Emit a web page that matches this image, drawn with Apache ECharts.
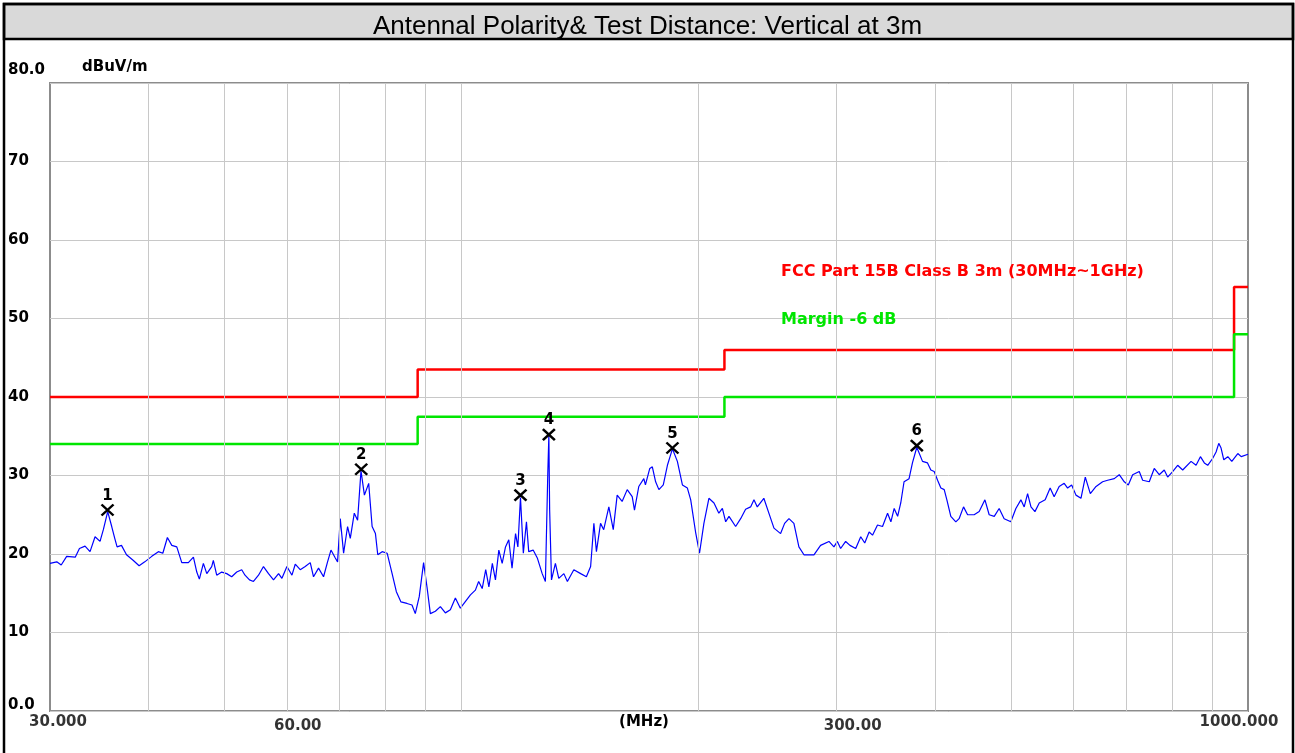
<!DOCTYPE html>
<html>
<head>
<meta charset="utf-8">
<title>Antennal Polarity & Test Distance</title>
<script src="https://cdn.jsdelivr.net/npm/echarts@6.0.0/dist/echarts.min.js"></script>
<style>
  html, body { margin: 0; padding: 0; background: #fff; }
  #myChart { width: 1295px; height: 753px; }
</style>
</head>
<body>
<div id="myChart"></div>
<script>
// measured trace, [MHz, dBuV/m]
const traceLow = [
  [30, 18.8], [30.6, 19.0], [31.0, 18.6], [31.5, 19.7], [32.3, 19.6], [32.7, 20.7], [33.24, 21.0], [33.73, 20.3],
  [34.23, 22.2], [34.73, 21.6], [35.07, 23.1], [35.52, 25.4], [35.94, 23.5], [36.26, 22.0], [36.51, 20.9], [36.98, 21.1],
  [37.53, 19.9], [38.26, 19.2], [38.94, 18.5], [39.59, 19.0], [40.41, 19.7], [41.20, 20.3], [41.74, 20.1], [42.30, 22.1],
  [42.85, 21.1], [43.48, 20.9], [44.12, 18.9], [44.98, 18.9], [45.65, 19.6], [46.10, 17.7], [46.45, 16.8], [47.00, 18.8],
  [47.47, 17.5], [48.16, 18.4], [48.39, 19.2], [48.87, 17.3], [49.59, 17.7], [50.32, 17.5], [51.06, 17.1], [51.82, 17.7],
  [52.58, 18.0], [53.09, 17.3], [53.79, 16.7], [54.42, 16.5], [55.23, 17.3], [56.04, 18.4], [56.87, 17.5], [57.71, 16.7],
  [58.57, 17.5], [59.15, 16.9], [60.02, 18.4], [60.91, 17.3], [61.5, 18.7], [62.40, 18.0], [63.32, 18.4], [64.26, 18.9],
  [64.88, 17.1], [65.84, 18.2], [66.81, 17.1], [67.6, 19.0], [68.28, 20.5], [69.15, 19.5], [69.61, 19.0], [70.16, 24.5],
  [70.85, 20.1], [71.68, 23.5], [72.25, 22.0], [73.10, 25.2], [73.81, 24.3], [74.55, 30.6], [75.30, 27.5], [76.25, 29.0],
  [77.02, 23.5], [77.77, 22.6], [78.30, 19.9], [79.31, 20.3], [80.48, 20.1], [81.66, 17.5], [82.68, 15.2], [83.81, 13.9],
  [85.29, 13.7], [86.55, 13.5], [87.39, 12.4], [88.42, 14.6], [89.54, 18.9], [90.44, 15.8], [91.33, 12.4], [92.68, 12.7],
  [94.05, 13.3], [95.44, 12.5], [96.84, 12.9]
]
const traceMid = [
  [98.27, 14.4], [99.72, 13.1], [102.7, 14.8], [104.2, 15.4], [105.2, 16.5], [106.3, 15.6], [107.4, 18.0], [108.4, 15.8],
  [109.5, 18.8], [110.5, 16.7], [111.6, 20.5], [112.7, 18.8], [113.8, 20.9], [114.9, 21.8], [116.0, 18.2], [117.2, 22.6],
  [118.0, 20.9], [118.9, 27.2], [119.9, 20.1], [121.0, 24.1], [121.8, 20.3], [123.4, 20.5], [124.9, 19.5], [126.7, 17.5],
  [127.9, 16.5], [128.8, 30.3], [129.2, 35.1], [129.5, 25.6], [130.2, 16.7], [131.7, 18.8], [133.0, 16.9], [135.0, 17.5],
  [136.4, 16.5], [139.0, 18.0], [141.8, 17.5], [144.2, 17.1], [146.0, 18.4], [147.4, 23.9], [148.5, 20.3], [150.3, 23.9],
  [151.7, 23.1], [154.0, 26.0], [156.0, 23.1], [157.8, 27.5], [160.1, 26.7], [162.5, 28.2], [164.9, 27.3], [166.0, 25.6],
  [168.1, 28.6], [170.6, 29.6], [171.4, 28.8], [173.6, 30.9], [174.9, 31.1], [176.6, 29.2], [178.3, 28.2], [180.6, 28.8],
  [182.8, 31.3], [185.5, 33.4], [188.2, 31.8], [191.0, 28.8], [193.8, 28.4], [195.7, 26.9], [198.5, 22.8], [200.8, 20.1],
  [203.4, 23.9], [206.4, 27.1], [209.5, 26.5], [212.5, 25.2], [214.7, 25.8], [216.8, 24.1], [218.9, 24.8], [223.2, 23.5],
  [226.5, 24.5], [229.8, 25.7], [233.2, 26.0], [235.5, 26.9], [237.8, 26.0], [242.4, 27.1], [246.0, 25.2], [249.7, 23.3],
  [254.6, 22.6], [257.6, 23.9], [260.9, 24.5], [264.7, 23.9], [268.6, 20.9], [272.6, 19.9], [280.7, 19.9], [286.2, 21.1],
  [293.3, 21.6], [297.6, 20.9]
]
const traceHigh = [
  [300.6, 21.6], [303.5, 20.7], [308.0, 21.6], [311.9, 21.1], [317.2, 20.7], [321.9, 22.2], [325.7, 21.4], [329.9, 22.8],
  [333.2, 22.4], [338.1, 23.7], [343.1, 23.5], [348.2, 25.2], [351.6, 24.1], [355.0, 25.8], [358.6, 24.8], [361.9, 26.5],
  [365.4, 29.2], [370.8, 29.6], [374.5, 31.6], [379.3, 33.6], [385.7, 31.8], [391.4, 31.6], [395.2, 30.7], [399.1, 30.5],
  [403.1, 29.4], [407.0, 28.4], [411.0, 28.2], [414.2, 26.9], [419.0, 24.8], [425.2, 24.1], [429.3, 24.5], [434.9, 26.0],
  [440.1, 25.0], [448.6, 25.0], [455.3, 25.4], [463.0, 26.9], [468.8, 25.0], [475.8, 24.8], [482.7, 25.8], [489.8, 24.5],
  [499.5, 24.1], [506.9, 25.8], [514.4, 26.9], [519.4, 26.0], [524.6, 27.7], [529.8, 26.0], [536.0, 25.4], [542.8, 26.5],
  [552.3, 26.9], [560.4, 28.4], [567.0, 27.3], [575.4, 28.6], [583.9, 29.0], [589.8, 28.4], [596.8, 28.8], [604.4, 27.5],
  [613.3, 27.1], [621.1, 29.8], [630.3, 27.7], [641.0, 28.6], [653.4, 29.2], [663.1, 29.4], [676.1, 29.6], [686.0, 30.1],
  [696.2, 29.2], [704.4, 28.8], [713.5, 30.1], [727.4, 30.5], [734.7, 29.4], [749.0, 29.2], [760.0, 30.9], [771.2, 30.1],
  [782.6, 30.7], [790.4, 29.8], [802.1, 30.5], [813.9, 31.3], [826.0, 30.7], [846.5, 31.8], [859.0, 31.3], [870.0, 32.4],
  [880.0, 31.6], [888.8, 31.3], [902.0, 32.2], [910.8, 33.0], [918.0, 34.1], [924.2, 33.5], [931.6, 32.0], [942.6, 32.4],
  [953.7, 31.8], [970.6, 32.8], [980.3, 32.4], [1000, 32.7]
]

// limit (FCC Part 15B class B 3m) and margin lines, stepped
const limitFreq = [30, 88, 88, 216, 216, 960, 960, 1000]
const limitLevel = [40, 40, 43.5, 43.5, 46, 46, 54, 54]
const marginLevel = [34, 34, 37.5, 37.5, 40, 40, 48, 48]

// peak markers
const markerFreq = [35.5, 74.6, 118.9, 129.2, 185.5, 379.3]
const markerLevel = [25.6, 30.8, 27.5, 35.2, 33.5, 33.8]
const markerLabels = ['1', '2', '3', '4', '5', '6']

// axes
const xGridFreq = [40, 50, 60, 70, 80, 90, 100, 200, 300, 400, 500, 600, 700, 800, 900]
const xTickValues = [30, 60, 300, 1000]
const xTickLabels = ['30.000', '60.00', '300.00', '1000.000']
const yTickValues = [0, 10, 20, 30, 40, 50, 60, 70, 80]
const yTickLabels = ['0.0', '10', '20', '30', '40', '50', '60', '70', '80.0']

const xLabelOffsets = [[8, 0], [11, 4], [16, 4], [-9, 0]]
const labelFont = { fontFamily: '"DejaVu Sans", sans-serif', fontWeight: 'bold', fontSize: 15, color: '#000' }

let myChart = echarts.init(document.getElementById('myChart'))

let options = {
  animation: false,
  backgroundColor: '#fff',
  title: {
    text: 'Antennal Polarity& Test Distance: Vertical at 3m',
    left: 'center',
    top: 9,
    z: 20,
    textStyle: { fontFamily: '"Liberation Sans", Arial, sans-serif', fontWeight: 'normal', fontSize: 26, color: '#000' }
  },
  graphic: [
    {
      type: 'rect',
      z: 0,
      shape: { x: 4, y: 4, width: 1289, height: 35 },
      style: { fill: '#d9d9d9', stroke: '#000', lineWidth: 2.5 }
    },
    {
      type: 'rect',
      z: 0,
      shape: { x: 4, y: 4, width: 1289, height: 790 },
      style: { fill: 'none', stroke: '#000', lineWidth: 2.5 }
    },
    {
      type: 'text',
      x: 781,
      y: 272,
      z: 10,
      style: { text: 'FCC Part 15B Class B 3m (30MHz~1GHz)', fill: '#ff0000', font: 'bold 16px "DejaVu Sans"', verticalAlign: 'middle' }
    },
    {
      type: 'text',
      x: 781,
      y: 320,
      z: 10,
      style: { text: 'Margin -6 dB', fill: '#00e600', font: 'bold 16px "DejaVu Sans"', verticalAlign: 'middle' }
    }
  ],
  grid: {
    left: 50,
    top: 83,
    width: 1198,
    height: 628,
    show: true,
    backgroundColor: '#fff',
    borderColor: '#8c8c8c',
    borderWidth: 2
  },
  xAxis: {
    type: 'log',
    logBase: 10,
    min: 30,
    max: 1000,
    axisLine: { show: false },
    axisTick: { show: false },
    axisLabel: { show: false },
    splitLine: { show: false },
    name: '(MHz)',
    nameLocation: 'middle',
    nameGap: 4,
    nameTextStyle: Object.assign({ verticalAlign: 'top', padding: [0, 10, 0, 0] }, labelFont)
  },
  yAxis: {
    type: 'value',
    min: 0,
    max: 80,
    interval: 10,
    axisLine: { show: false },
    axisTick: { show: false },
    splitLine: { lineStyle: { color: '#c8c8c8', width: 1 } },
    axisLabel: Object.assign({
      align: 'left',
      margin: 42,
      formatter: function (v) {
        let t = yTickLabels[yTickValues.indexOf(v)]
        if (v === 80) return '{top|' + t + '}'
        if (v === 0) return '{bot|' + t + '}'
        return t
      },
      rich: {
        top: Object.assign({ padding: [0, 0, 26, 0] }, labelFont),
        bot: Object.assign({ padding: [0, 0, 12, 0] }, labelFont)
      }
    }, labelFont),
    name: 'dBuV/m',
    nameLocation: 'end',
    nameGap: 8,
    nameTextStyle: Object.assign({ align: 'left', padding: [0, 0, 0, 32] }, labelFont)
  },
  series: [
    {
      name: 'grid',
      type: 'line',
      data: [],
      z: 1,
      silent: true,
      markLine: {
        silent: true,
        symbol: 'none',
        animation: false,
        label: { show: false },
        lineStyle: { color: '#c8c8c8', width: 1, type: 'solid' },
        data: xGridFreq.map(f => ({ xAxis: f }))
      }
    },
    {
      name: 'limit',
      type: 'line',
      z: 3,
      symbol: 'none',
      data: limitFreq.map((f, i) => [f, limitLevel[i]]),
      lineStyle: { color: '#ff0000', width: 2.5 }
    },
    {
      name: 'margin',
      type: 'line',
      z: 3,
      symbol: 'none',
      data: limitFreq.map((f, i) => [f, marginLevel[i]]),
      lineStyle: { color: '#00e600', width: 2.5 }
    },
    {
      name: 'trace',
      type: 'line',
      z: 4,
      symbol: 'none',
      data: traceLow.concat(traceMid, traceHigh),
      lineStyle: { color: '#0000ff', width: 1.2 }
    },
    {
      name: 'peaks',
      type: 'scatter',
      z: 5,
      symbol: 'path://M0,0L10,10M10,0L0,10',
      symbolSize: [12, 11],
      itemStyle: { color: 'rgba(0,0,0,0)', borderColor: '#000', borderWidth: 2.4, opacity: 1 },
      label: Object.assign({
        show: true,
        position: 'top',
        distance: 0,
        formatter: p => markerLabels[p.dataIndex]
      }, labelFont),
      data: markerFreq.map((f, i) => [f, markerLevel[i]])
    },
    {
      name: 'xlabels',
      type: 'scatter',
      z: 5,
      silent: true,
      clip: false,
      symbolSize: 1,
      itemStyle: { color: 'rgba(0,0,0,0)' },
      label: Object.assign({
        show: true,
        position: 'bottom',
        distance: 3,
        formatter: p => xTickLabels[p.dataIndex]
      }, labelFont),
      data: xTickValues.map((v, i) => ({ value: [v, 0], label: { offset: xLabelOffsets[i] } }))
    }
  ]
}

myChart.setOption(options)
</script>
</body>
</html>
